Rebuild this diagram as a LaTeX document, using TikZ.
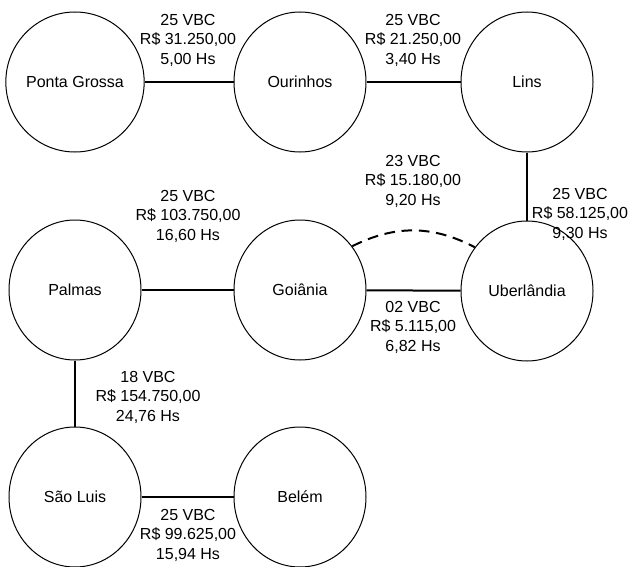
\documentclass[tikz,border=0pt]{standalone}
\usepackage{fontspec}
\setmainfont{Liberation Sans}
\usetikzlibrary{shapes.geometric}

\begin{document}
\begin{tikzpicture}[x=0.75pt, y=-0.75pt, font=\fontsize{12}{14.6}\selectfont,
  city/.style={ellipse, draw, line width=0.75pt, minimum width=99pt, minimum height=105pt, inner sep=0pt},
  route/.style={line width=1.5pt},
  cost/.style={align=center, inner sep=0pt}]
\useasboundingbox (0,0) rectangle (628,567);
\node[city] (pg) at (75,82) {Ponta Grossa};
\node[city] (our) at (300,82) {Ourinhos};
\node[city] (lins) at (527,82) {Lins};
\node[city] (pal) at (75,290) {Palmas};
\node[city] (goi) at (300,290) {Goiânia};
\node[city] (ube) at (527,291) {Uberlândia};
\node[city] (sl) at (75,497) {São Luis};
\node[city] (bel) at (300,497) {Belém};

\draw[route] (pg) -- (our);
\draw[route] (our) -- (lins);
\draw[route] (lins) -- (ube);
\draw[route] (pal) -- (goi);
\draw[route] (goi) -- (ube);
\draw[route] (pal) -- (sl);
\draw[route] (sl) -- (bel);
\draw[route, dash pattern=on 8pt off 5pt] (goi.40) to[bend left=27] (ube.140);

\node[cost] (c1) at (188,40) {25 VBC\\R\$ 31.250,00\\5,00 Hs};
\node[cost] (c2) at (413,40) {25 VBC\\R\$ 21.250,00\\3,40 Hs};
\node[cost] (c3) at (413,181) {23 VBC\\R\$ 15.180,00\\9,20 Hs};
\node[cost] (c4) at (580,214) {25 VBC\\R\$ 58.125,00\\9,30 Hs};
\node[cost] (c5) at (188,216) {25 VBC\\R\$ 103.750,00\\16,60 Hs};
\node[cost] (c6) at (413,327) {02 VBC\\R\$ 5.115,00\\6,82 Hs};
\node[cost] (c7) at (148,397) {18 VBC\\R\$ 154.750,00\\24,76 Hs};
\node[cost] (c8) at (188,535) {25 VBC\\R\$ 99.625,00\\15,94 Hs};
\end{tikzpicture}
\end{document}
